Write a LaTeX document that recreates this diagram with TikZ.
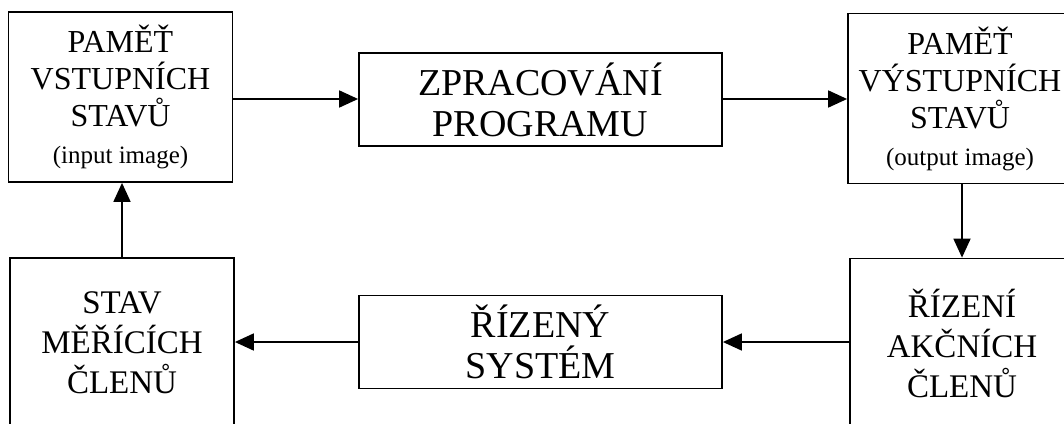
\documentclass[tikz,border=0pt]{standalone}
\usepackage{fontspec}
\setmainfont{Liberation Serif}
\usetikzlibrary{arrows.meta}
\begin{document}
\begin{tikzpicture}[x=1pt,y=-1pt,
  box/.style={draw, line width=1.8pt, align=center, inner sep=0pt},
  sidebox/.style={box, minimum width=224pt, minimum height=170pt,
    font=\fontsize{32}{37}\selectfont},
  lowbox/.style={box, minimum width=224pt, minimum height=170pt,
    font=\fontsize{33}{40}\selectfont},
  midbox/.style={box, minimum width=363pt, minimum height=93pt,
    font=\fontsize{38}{41}\selectfont},
  conn/.style={line width=1.8pt, -{Triangle[length=19pt,width=17pt]}}]
\useasboundingbox (0,0) rectangle (1064,423);

% upper row
\node[sidebox] (inmem) at (120.5,97) {PAMĚŤ\\VSTUPNÍCH\\STAVŮ\\{\fontsize{25}{37}\selectfont (input image)}};
\node[midbox] (prog) at (540.5,99.5) {ZPRACOVÁNÍ\\PROGRAMU};
\node[sidebox] (outmem) at (960,98.5) {PAMĚŤ\\VÝSTUPNÍCH\\STAVŮ\\{\fontsize{25}{37}\selectfont (output image)}};

% lower row
\node[lowbox] (act) at (962,343.5) {ŘÍZENÍ\\AKČNÍCH\\ČLENŮ};
\node[midbox] (plant) at (540.5,342) {ŘÍZENÝ\\SYSTÉM};
\node[lowbox] (meas) at (122,343) {STAV\\MĚŘÍCÍCH\\ČLENŮ};

% signal flow
\draw[conn] (inmem.east |- 0,99) -- (prog.west |- 0,99);
\draw[conn] (prog.east |- 0,99) -- (outmem.west |- 0,99);
\draw[conn] (outmem.south -| act.north) -- (act.north);
\draw[conn] (act.west |- plant.east) -- (plant.east);
\draw[conn] (plant.west) -- (plant.west -| meas.east);
\draw[conn] (meas.north) -- (meas.north |- inmem.south);
\end{tikzpicture}
\end{document}
